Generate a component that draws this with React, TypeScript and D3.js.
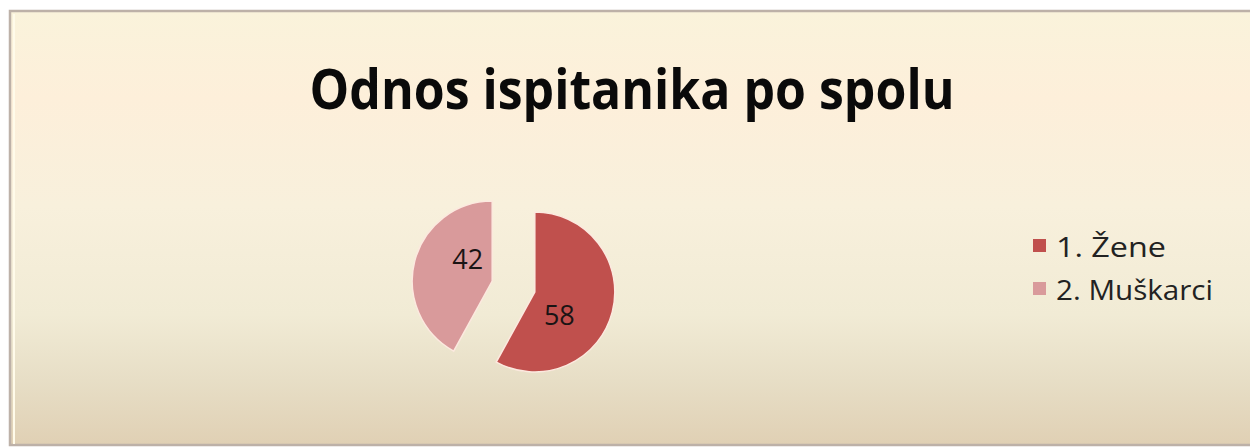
import React, { useEffect, useRef } from 'react';
import * as d3 from 'd3';

const categories = ['1. Žene', '2. Muškarci'];
const values = [58, 42];
const colors = ['#C0504D', '#D99A9B'];
const title = 'Odnos ispitanika po spolu';

const App: React.FC = () => {
  const svgRef = useRef<SVGSVGElement | null>(null);

  useEffect(() => {
    if (!svgRef.current) return;
    const svg = d3.select(svgRef.current);
    svg.selectAll('*').remove();
    const width = 1250;
    const height = 448;

    // background gradient
    const defs = svg.append('defs');
    const grad = defs.append('linearGradient')
      .attr('id', 'bg').attr('x1', 0).attr('y1', 0).attr('x2', 0).attr('y2', 1);
    [
      [0, '#FAF3DB'],
      [0.2, '#FDEFDA'],
      [0.45, '#F8F0DC'],
      [0.7, '#F1EBD5'],
      [0.85, '#E7DEC6'],
      [1, '#E0D0B4'],
    ].forEach(([o, c]) => grad.append('stop').attr('offset', o as number).attr('stop-color', c as string));

    svg.append('rect').attr('width', width).attr('height', height).attr('fill', '#ffffff');
    svg.append('rect')
      .attr('x', 10).attr('y', 11)
      .attr('width', width + 10).attr('height', 434)
      .attr('fill', 'url(#bg)')
      .attr('stroke', '#BDB1A8')
      .attr('stroke-width', 2.5);
    svg.append('line')
      .attr('x1', 14).attr('x2', 14).attr('y1', 14).attr('y2', 444)
      .attr('stroke', '#FFFBEA').attr('stroke-width', 2);

    // title
    svg.append('text')
      .attr('x', 632)
      .attr('y', 109)
      .attr('text-anchor', 'middle')
      .attr('textLength', 645)
      .attr('lengthAdjust', 'spacingAndGlyphs')
      .style('font', 'bold 55px "Open Sans", sans-serif')
      .attr('fill', '#0a0a0a')
      .text(title);

    // pie
    const cx = 513.5;
    const cy = 286.5;
    const r = 80;
    const explode = 22;

    const pie = d3.pie<number>().sort(null).value(d => d);
    const arcs = pie(values);
    const arc = d3.arc<d3.PieArcDatum<number>>().innerRadius(0).outerRadius(r);
    const labelArc = d3.arc<d3.PieArcDatum<number>>().innerRadius(33).outerRadius(33);
    const shift = 0.48;

    const g = svg.append('g').attr('transform', `translate(${cx},${cy})`);
    const slices = g.selectAll('g.slice')
      .data(arcs)
      .enter()
      .append('g')
      .attr('class', 'slice')
      .attr('transform', d => {
        const mid = (d.startAngle + d.endAngle) / 2;
        return `translate(${Math.sin(mid) * explode},${-Math.cos(mid) * explode})`;
      });

    slices.append('path')
      .attr('d', arc)
      .attr('fill', (d, i) => colors[i])
      .attr('stroke', '#FCE9DF')
      .attr('stroke-width', 1.5);

    slices.append('text')
      .attr('transform', d => {
        const [x, y] = labelArc.centroid({ ...d, startAngle: d.startAngle + shift, endAngle: d.endAngle + shift });
        return `translate(${x},${y})`;
      })
      .attr('text-anchor', 'middle')
      .attr('dominant-baseline', 'central')
      .style('font', '27px "Open Sans", sans-serif')
      .attr('fill', '#1a1414')
      .text(d => d.data);

    // legend
    const legend = svg.append('g').attr('transform', 'translate(1033,0)');
    const rowY = d3.scalePoint<string>().domain(categories).range([246, 289]);
    const legendWidths = [110, 157];

    categories.forEach((c, i) => {
      const y = rowY(c) as number;
      legend.append('rect')
        .attr('x', 0).attr('y', y - 7)
        .attr('width', 13).attr('height', 13)
        .attr('fill', colors[i]);
      legend.append('text')
        .attr('x', 23)
        .attr('y', y)
        .attr('dominant-baseline', 'central')
        .attr('textLength', legendWidths[i])
        .attr('lengthAdjust', 'spacingAndGlyphs')
        .style('font', '28px "Open Sans", sans-serif')
        .attr('fill', '#222222')
        .text(c);
    });
  }, []);

  return (
    <svg
      ref={svgRef}
      width={1250}
      height={448}
      style={{ position: 'absolute', left: 0, top: 0, display: 'block' }}
    ></svg>
  );
};

export default App;
